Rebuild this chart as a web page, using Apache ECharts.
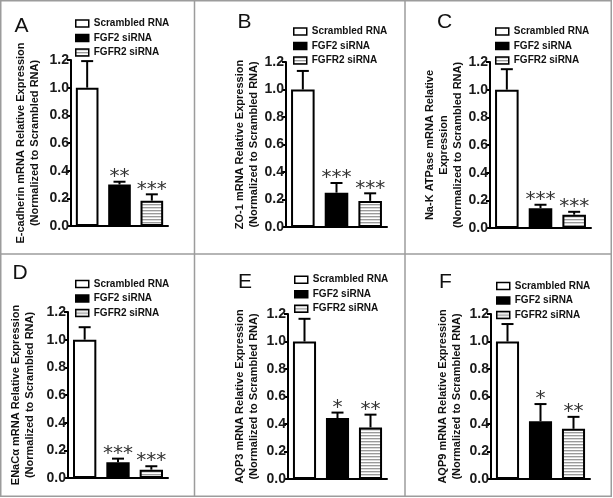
<!DOCTYPE html>
<html><head><meta charset="utf-8">
<script src="https://cdn.jsdelivr.net/npm/echarts@6/dist/echarts.min.js"></script>
<style>html,body{margin:0;padding:0;background:#fff}#c{width:613px;height:498px}</style>
</head><body><div id="c"></div>
<script>
// ---------- data ----------
const groups = ['Scrambled RNA', 'FGF2 siRNA', 'FGFR2 siRNA'];
const panelLetters = ['A', 'B', 'C', 'D', 'E', 'F'];
const yTitles = [
  'E-cadherin mRNA Relative Expression\n(Normalized to Scrambled RNA)',
  'ZO-1 mRNA Relative Expression\n(Normalized to Scrambled RNA)',
  'Na-K ATPase mRNA Relative\nExpression\n(Normalized to Scrambled RNA)',
  'ENaCα mRNA Relative Expression\n(Normalized to Scrambled RNA)',
  'AQP3 mRNA Relative Expression\n(Normalized to Scrambled RNA)',
  'AQP9 mRNA Relative Expression\n(Normalized to Scrambled RNA)'
];
const yTicks = [0.0, 0.2, 0.4, 0.6, 0.8, 1.0, 1.2];

const meanA = [1.00, 0.300, 0.183], errA = [0.192, 0.020, 0.046], sigA = ['', '**', '***'];
const meanB = [1.00, 0.250, 0.190], errB = [0.135, 0.070, 0.055], sigB = ['', '***', '***'];
const meanC = [1.00, 0.143, 0.096], errC = [0.148, 0.025, 0.021], sigC = ['', '***', '***'];
const meanD = [1.00, 0.114, 0.060], errD = [0.090, 0.026, 0.025], sigD = ['', '***', '***'];
const meanE = [1.00, 0.443, 0.375], errE = [0.165, 0.040, 0.093], sigE = ['', '*', '**'];
const meanF = [1.00, 0.420, 0.365], errF = [0.127, 0.125, 0.087], sigF = ['', '*', '**'];

const means = [meanA, meanB, meanC, meanD, meanE, meanF];
const errs = [errA, errB, errC, errD, errE, errF];
const sigs = [sigA, sigB, sigC, sigD, sigE, sigF];

// ---------- layout ----------
const grids = [
  {left: 71, top: 60, width: 97, height: 166},
  {left: 286, top: 62, width: 101, height: 165},
  {left: 490, top: 62, width: 101, height: 166},
  {left: 68, top: 312, width: 100, height: 166},
  {left: 288, top: 314, width: 99, height: 165},
  {left: 491, top: 314, width: 99, height: 165}
];
const nameGaps = [29, 25, 25, 31, 27, 27];
const legendPos = [
  {left: 75, top: 17.5}, {left: 293, top: 25.5}, {left: 495, top: 25.5},
  {left: 75, top: 278}, {left: 294, top: 273.7}, {left: 496, top: 280}
];
const letterPos = [[21.5, 26.5], [244.5, 22.5], [444.5, 22.5], [20, 273], [245, 282.5], [445.5, 282.5]];

const FONT = '"Liberation Sans", Arial, sans-serif';

// stripe pattern
const pc = document.createElement('canvas');
pc.width = 4; pc.height = 3;
const pctx = pc.getContext('2d');
pctx.fillStyle = '#ffffff'; pctx.fillRect(0, 0, 4, 3);
pctx.fillStyle = '#9a9a9a'; pctx.fillRect(0, 0, 4, 1);
pctx.fillStyle = '#dadada'; pctx.fillRect(0, 1, 4, 1);

const barStyles = [
  {color: '#ffffff', borderColor: '#000', borderWidth: 2},
  {color: '#000000', borderColor: '#000', borderWidth: 2},
  {color: {image: pc, repeat: 'repeat'}, borderColor: '#000', borderWidth: 2}
];

const option = {
  animation: false,
  grid: [], xAxis: [], yAxis: [], legend: [], series: [],
  graphic: []
};

for (let p = 0; p < 6; p++) {
  option.grid.push(Object.assign({containLabel: false, outerBoundsMode: 'none'}, grids[p]));
  option.xAxis.push({
    type: 'category', gridIndex: p, data: groups,
    axisLine: {show: true, lineStyle: {color: '#000', width: 2}},
    axisTick: {show: false}, axisLabel: {show: false}, splitLine: {show: false}
  });
  option.yAxis.push({
    type: 'value', gridIndex: p,
    min: yTicks[0], max: yTicks[yTicks.length - 1], interval: yTicks[1] - yTicks[0],
    name: yTitles[p], nameLocation: 'middle', nameRotate: 90, nameGap: nameGaps[p],
    nameTextStyle: {fontFamily: FONT, fontSize: 11, fontWeight: 'bold', color: '#111', lineHeight: 14, align: 'center'},
    axisLine: {show: true, lineStyle: {color: '#000', width: 2}},
    axisTick: {show: true, length: 4, lineStyle: {color: '#000', width: 2}},
    axisLabel: {show: true, margin: 2, fontFamily: FONT, fontSize: 14, fontWeight: 'bold', color: '#1a1a1a',
      formatter: v => v.toFixed(1)},
    splitLine: {show: false}
  });
  option.legend.push({
    orient: 'vertical', left: legendPos[p].left, top: legendPos[p].top,
    data: groups.map(n => ({name: n})), selectedMode: false,
    icon: 'rect', itemWidth: 13, itemHeight: 7, itemGap: 2.5, padding: 0,
    itemStyle: {borderColor: '#000', borderWidth: 1.5},
    textStyle: {fontFamily: FONT, fontSize: 10, fontWeight: 'bold', color: '#111', lineHeight: 12, padding: [0, 0, 0, 0]}
  });
  for (let g = 0; g < 3; g++) {
    option.series.push({
      type: 'bar', name: groups[g], xAxisIndex: p, yAxisIndex: p,
      barWidth: '70%', barGap: '-100%',
      data: groups.map((_, i) => (i === g ? means[p][i] : '-')),
      itemStyle: barStyles[g], emphasis: {disabled: true}, silent: true
    });
  }
  const sig = sigs[p];
  option.series.push({
    type: 'custom', xAxisIndex: p, yAxisIndex: p, silent: true, z: 5,
    encode: {x: 0, y: [1, 2]},
    data: means[p].map((m, i) => [i, m, m + errs[p][i]]),
    renderItem: function (params, api) {
      const x = api.value(0), m = api.value(1), u = api.value(2);
      const b = api.coord([x, m]), t = api.coord([x, u]);
      const cap = 6;
      const ch = [
        {type: 'line', shape: {x1: b[0], y1: b[1], x2: t[0], y2: t[1]}, style: {stroke: '#000', lineWidth: 2}},
        {type: 'line', shape: {x1: t[0] - cap, y1: t[1], x2: t[0] + cap, y2: t[1]}, style: {stroke: '#000', lineWidth: 2}}
      ];
      const s = sig[params.dataIndex];
      if (s) {
        ch.push({type: 'text', x: t[0], y: t[1] - 5,
          style: {text: s, align: 'center', verticalAlign: 'middle', textAlign: 'center', textVerticalAlign: 'middle',
            fontSize: 20, fontFamily: '"DejaVu Sans", sans-serif', fill: '#333'}});
      }
      return {type: 'group', children: ch};
    }
  });
  option.graphic.push({
    type: 'text', x: letterPos[p][0], y: letterPos[p][1], silent: true,
    style: {text: panelLetters[p], align: 'center', verticalAlign: 'middle', textAlign: 'center', textVerticalAlign: 'middle',
      fontSize: 21, fontFamily: FONT, fill: '#111'}
  });
}

// panel frame
const frame = '#9c9c9c';
option.graphic.push(
  {type: 'rect', shape: {x: 0.75, y: 0.75, width: 610.5, height: 495.5}, style: {fill: 'none', stroke: frame, lineWidth: 1.5}, silent: true, z: -1},
  {type: 'line', shape: {x1: 194.5, y1: 0, x2: 194.5, y2: 496}, style: {stroke: frame, lineWidth: 1.5}, silent: true, z: -1},
  {type: 'line', shape: {x1: 405, y1: 0, x2: 405, y2: 496}, style: {stroke: frame, lineWidth: 1.5}, silent: true, z: -1},
  {type: 'line', shape: {x1: 0, y1: 254, x2: 611, y2: 254}, style: {stroke: frame, lineWidth: 1.5}, silent: true, z: -1}
);

const chart = echarts.init(document.getElementById('c'), null, {renderer: 'canvas'});
chart.setOption(option);
</script>
</body></html>
